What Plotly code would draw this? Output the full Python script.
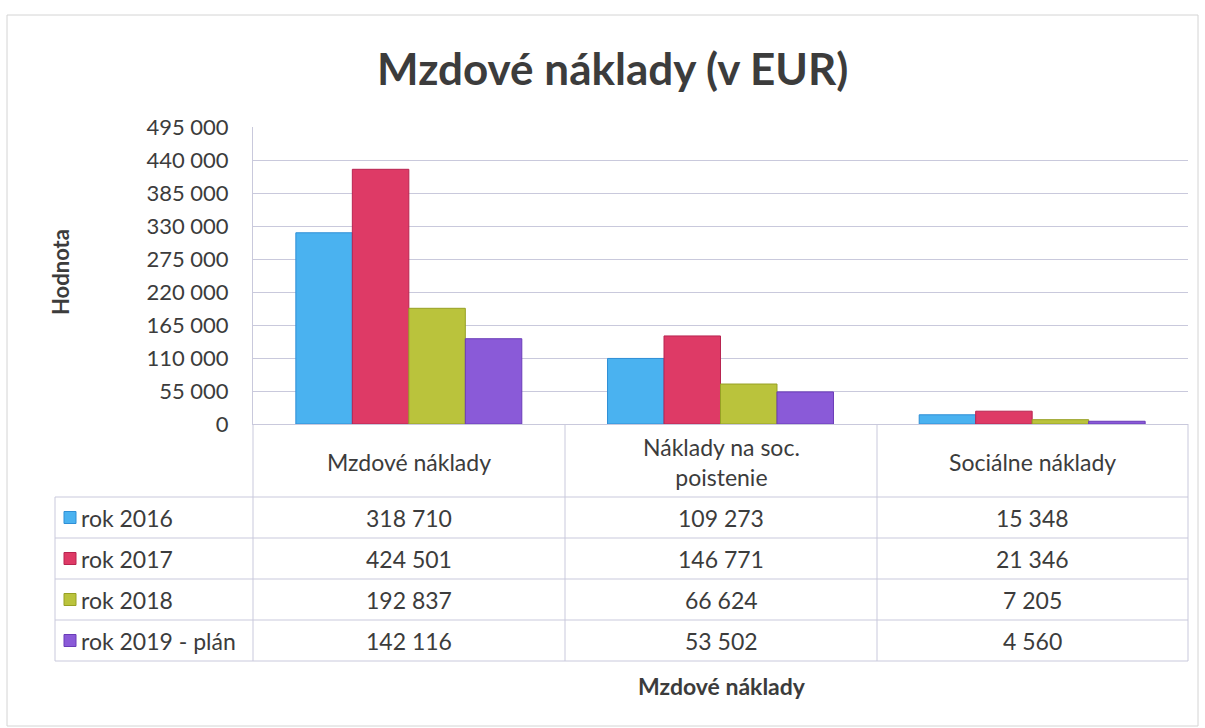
import plotly.graph_objects as go

# ---------------- data ----------------
categories = ["Mzdové náklady", "Náklady na soc. poistenie", "Sociálne náklady"]
category_labels = ["Mzdové náklady", "Náklady na soc.<br>poistenie", "Sociálne náklady"]
series_names = ["rok 2016", "rok 2017", "rok 2018", "rok 2019 - plán"]
rok_2016 = [318710, 109273, 15348]
rok_2017 = [424501, 146771, 21346]
rok_2018 = [192837, 66624, 7205]
rok_2019_plan = [142116, 53502, 4560]
series_values = [rok_2016, rok_2017, rok_2018, rok_2019_plan]
y_tick_values = [0, 55000, 110000, 165000, 220000, 275000, 330000, 385000, 440000, 495000]

title_text = "Mzdové náklady (v EUR)"
y_title = "Hodnota"
x_title = "Mzdové náklady"

# ---------------- style ----------------
W, H = 1205, 728
colors = ["#4AB2F0", "#DE3A66", "#BAC33C", "#8A5AD8"]
line_colors = ["#2F8FD6", "#B82450", "#97A024", "#6A3CB8"]
FONT = "Lato"
TXT = "#3c3c3c"
GRID = "#c9c9dc"

def px(x):
    return x / W

def py(y):
    return 1 - y / H

plot_l, plot_r, plot_t, plot_b = 253, 1188, 127, 424
table_l = 55
header_bottom = 497
row_h = 41
col_edges = [253, 565, 877, 1188]

def fmt(v):
    return f"{v:,}".replace(",", " ")

fig = go.Figure()
for name, vals, c, lc in zip(series_names, series_values, colors, line_colors):
    fig.add_trace(go.Bar(
        x=categories, y=vals, name=name,
        marker=dict(color=c, line=dict(color=lc, width=1)),
        showlegend=False,
    ))

shapes = []
annotations = []

# outer frame
shapes.append(dict(type="rect", xref="paper", yref="paper",
                   x0=px(7), x1=px(1198), y0=py(726), y1=py(15),
                   line=dict(color="#d4d4d4", width=1)))

# table horizontal lines
n_rows = len(series_names)
for i in range(n_rows + 1):
    yy = header_bottom + i * row_h
    shapes.append(dict(type="line", xref="paper", yref="paper",
                       x0=px(table_l), x1=px(plot_r), y0=py(yy), y1=py(yy),
                       line=dict(color=GRID, width=1)))
table_bottom = header_bottom + n_rows * row_h
# vertical lines
shapes.append(dict(type="line", xref="paper", yref="paper",
                   x0=px(table_l), x1=px(table_l), y0=py(header_bottom), y1=py(table_bottom),
                   line=dict(color=GRID, width=1)))
for xe in col_edges:
    shapes.append(dict(type="line", xref="paper", yref="paper",
                       x0=px(xe), x1=px(xe), y0=py(plot_b), y1=py(table_bottom),
                       line=dict(color=GRID, width=1)))

# header labels
for i, lab in enumerate(category_labels):
    cx = (col_edges[i] + col_edges[i + 1]) / 2
    annotations.append(dict(xref="paper", yref="paper", x=px(cx), y=py((plot_b + header_bottom) / 2 + 1),
                            text=lab, showarrow=False, xanchor="center", yanchor="middle",
                            font=dict(family=FONT, size=23, color=TXT)))

# row labels, legend keys and values
for r, (name, vals, c, lc) in enumerate(zip(series_names, series_values, colors, line_colors)):
    cy = header_bottom + r * row_h + row_h / 2
    shapes.append(dict(type="rect", xref="paper", yref="paper",
                       x0=px(64), x1=px(76), y0=py(cy + 6), y1=py(cy - 6),
                       fillcolor=c, line=dict(color=lc, width=1)))
    annotations.append(dict(xref="paper", yref="paper", x=px(79), y=py(cy),
                            text=name, showarrow=False, xanchor="left", yanchor="middle",
                            font=dict(family=FONT, size=23, color=TXT)))
    for i, v in enumerate(vals):
        cx = (col_edges[i] + col_edges[i + 1]) / 2
        annotations.append(dict(xref="paper", yref="paper", x=px(cx), y=py(cy),
                                text=fmt(v), showarrow=False, xanchor="center", yanchor="middle",
                                font=dict(family=FONT, size=23, color=TXT)))

# titles
annotations.append(dict(xref="paper", yref="paper", x=px(612), y=py(68),
                        text=f"<b>{title_text}</b>", showarrow=False, xanchor="center", yanchor="middle",
                        font=dict(family=FONT, size=44, color=TXT)))
annotations.append(dict(xref="paper", yref="paper", x=px(60), y=py(272),
                        text=f"<b>{y_title}</b>", showarrow=False, xanchor="center", yanchor="middle",
                        textangle=-90, font=dict(family=FONT, size=22, color=TXT)))
annotations.append(dict(xref="paper", yref="paper", x=px(722), y=py(686),
                        text=f"<b>{x_title}</b>", showarrow=False, xanchor="center", yanchor="middle",
                        font=dict(family=FONT, size=23, color=TXT)))

fig.update_layout(
    width=W, height=H, autosize=False,
    margin=dict(l=0, r=0, t=0, b=0, pad=0),
    paper_bgcolor="white", plot_bgcolor="white",
    barmode="group", bargap=0.275, bargroupgap=0,
    separators=", ",
    font=dict(family=FONT, color=TXT),
    shapes=shapes, annotations=annotations,
    xaxis=dict(domain=[px(plot_l), px(plot_r)], showticklabels=False, ticks="",
               showgrid=False, showline=True, linecolor=GRID, linewidth=1, zeroline=False,
               automargin=False,
               categoryorder="array", categoryarray=categories),
    yaxis=dict(domain=[py(plot_b), py(plot_t)], range=[0, 495000],
               tickvals=y_tick_values, tickformat=",d",
               showgrid=True, gridcolor=GRID, gridwidth=1,
               showline=True, linecolor=GRID, linewidth=1, zeroline=False,
               automargin=False,
               ticks="", ticklabelstandoff=19,
               tickfont=dict(family=FONT, size=22, color=TXT)),
)

fig.write_html("out.html", config={"displayModeBar": False},
               post_script="document.body.style.margin='0px';")
